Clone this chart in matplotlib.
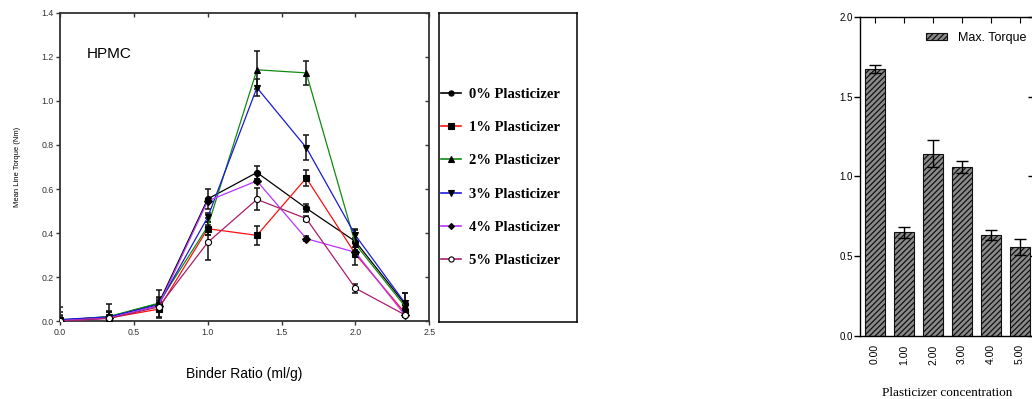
import numpy as np
import matplotlib
matplotlib.use("Agg")
import matplotlib.pyplot as plt
from matplotlib.lines import Line2D
from matplotlib.patches import Patch

plt.rcParams['font.family'] = ['Liberation Sans', 'DejaVu Sans']
plt.rcParams['hatch.linewidth'] = 0.9

# HPMC mixer torque vs binder ratio, one series per plasticizer level
binder = [0.0, 0.333, 0.667, 1.0, 1.333, 1.667, 2.0, 2.333]
labels = ['0% Plasticizer', '1% Plasticizer', '2% Plasticizer',
          '3% Plasticizer', '4% Plasticizer', '5% Plasticizer']
p0 = [0.005, 0.02, 0.08, 0.555, 0.675, 0.513, 0.362, 0.08]
p1 = [0.003, 0.015, 0.055, 0.42, 0.39, 0.65, 0.305, 0.04]
p2 = [0.005, 0.022, 0.082, 0.43, 1.141, 1.127, 0.35, 0.07]
p3 = [0.008, 0.02, 0.075, 0.472, 1.06, 0.788, 0.39, 0.085]
p4 = [0.003, 0.015, 0.07, 0.546, 0.637, 0.375, 0.313, 0.03]
p5 = [0.0, 0.013, 0.065, 0.358, 0.553, 0.466, 0.15, 0.03]
e0 = [0.06, 0.06, 0.06, 0.045, 0.03, 0.018, 0.05, 0.05]
e1 = [0.04, 0.03, 0.04, 0.03, 0.043, 0.035, 0.05, 0.02]
e2 = [0.02, 0.02, 0.03, 0.04, 0.085, 0.055, 0.03, 0.02]
e3 = [0.02, 0.02, 0.03, 0.02, 0.04, 0.055, 0.03, 0.045]
e4 = [0.01, 0.01, 0.02, 0.01, 0.01, 0.01, 0.01, 0.01]
e5 = [0.01, 0.01, 0.02, 0.08, 0.05, 0.01, 0.02, 0.01]

# max torque per plasticizer concentration
conc = ['0.00', '1.00', '2.00', '3.00', '4.00', '5.00']
max_torque = [1.672, 0.649, 1.142, 1.061, 0.635, 0.555]
max_err = [0.027, 0.033, 0.084, 0.038, 0.032, 0.05]

series = [p0, p1, p2, p3, p4, p5]
errs = [e0, e1, e2, e3, e4, e5]
colors = ['black', '#ff1010', '#128a12', '#1a1ad8', '#b833ff', '#a8206a']
markers = ['o', 's', '^', 'v', 'D', 'o']
faces = ['black', 'black', 'black', 'black', 'black', 'white']
sizes = [4.4, 4.4, 4.7, 4.7, 3.6, 4.4]

W, H = 1032, 399
fig = plt.figure(figsize=(W / 100, H / 100), dpi=100)

# line chart
ax = fig.add_axes([60 / W, (H - 321.3) / H, 369.3 / W, 308.6 / H])
for y, e in zip(series, errs):
    ax.errorbar(binder, y, yerr=e, fmt='none', ecolor='#111111',
                elinewidth=1.1, capsize=2.2, capthick=1.1, zorder=2)
for y, c, m, fc, s in zip(series, colors, markers, faces, sizes):
    ax.plot(binder, y, color=c, lw=0.9, marker=m, ms=s, mfc=fc,
            mec='black', mew=0.8, zorder=3)

ax.set_xlim(0, 2.5)
ax.set_ylim(0, 1.4)
ax.set_xticks(np.arange(0, 2.51, 0.5))
ax.set_yticks(np.arange(0, 1.41, 0.2))
ax.xaxis.set_major_formatter('{x:.1f}')
ax.yaxis.set_major_formatter('{x:.1f}')
ax.tick_params(axis='both', labelsize=6.3, length=3, width=1, color='#333333',
               labelcolor='#333333', pad=1.5, direction='out')
ax.tick_params(top=True, right=True, which='both')
for tick in ax.xaxis.get_major_ticks():
    tick.tick2line.set_marker(3)
for tick in ax.yaxis.get_major_ticks():
    tick.tick2line.set_marker(0)
for sp in ax.spines.values():
    sp.set_color('#333333')
    sp.set_linewidth(1.3)
ax.set_xlabel('Binder Ratio (ml/g)', fontsize=10, labelpad=22)
ax.set_ylabel('Mean Line Torque (Nm)', fontsize=5.5, labelpad=15)
ax.text(0.072, 0.853, 'HPMC', transform=ax.transAxes, fontsize=11,
        va='baseline', ha='left')

# legend box for the line chart
ax_leg = fig.add_axes([439 / W, (H - 321.7) / H, 138 / W, 308.7 / H])
ax_leg.set_xticks([])
ax_leg.set_yticks([])
for sp in ax_leg.spines.values():
    sp.set_linewidth(1.1)
handles = [Line2D([], [], color=c, lw=1.2, marker=m, ms=s * 0.85, mfc=fc,
                  mec='black', mew=0.8)
           for c, m, fc, s in zip(colors, markers, faces, sizes)]
fig.legend(handles, labels, loc='upper left',
           bbox_to_anchor=(441 / W, (H - 87.5) / H),
           frameon=False, borderpad=0, borderaxespad=0,
           handlelength=1.35, handletextpad=0.6, labelspacing=1.38,
           prop={'family': 'Liberation Serif', 'weight': 'bold', 'size': 10.5})

# bar chart
ax_bar = fig.add_axes([860 / W, (H - 336) / H, 174 / W, 319.3 / H])
xpos = np.arange(len(conc))
ax_bar.bar(xpos, max_torque, width=0.67, color='#8a8a8a', edgecolor='#111111',
           hatch='//////', lw=0.8, zorder=2)
ax_bar.errorbar(xpos, max_torque, yerr=max_err, fmt='none', ecolor='black',
                elinewidth=1, capsize=4.2, capthick=1, zorder=3)
ax_bar.set_xlim(-0.517, 5.483)
ax_bar.set_ylim(0, 2.0)
ax_bar.set_xticks(xpos)
ax_bar.set_xticklabels(conc, rotation=90)
ax_bar.set_yticks(np.arange(0, 2.01, 0.5))
ax_bar.yaxis.set_major_formatter('{x:.1f}')
ax_bar.tick_params(axis='y', labelsize=7, length=4, width=1, pad=1,
                   direction='out', right=True)
ax_bar.tick_params(axis='x', labelsize=7.5, length=0, pad=6, top=True)
for tick in ax_bar.xaxis.get_major_ticks():
    tick.tick2line.set_marker(3)
    tick.tick2line.set_markersize(4)
for tick in ax_bar.yaxis.get_major_ticks():
    tick.tick2line.set_marker(0)
for sp in ax_bar.spines.values():
    sp.set_linewidth(1)
ax_bar.set_xlabel('Plasticizer concentration', fontsize=9.5,
                  family='Liberation Serif', labelpad=16)
bar_handle = Patch(facecolor='#8a8a8a', edgecolor='#111111', hatch='//////',
                   lw=0.8)
fig.legend([bar_handle], ['Max. Torque'], loc='upper left',
           bbox_to_anchor=(926 / W, (H - 32) / H), frameon=False,
           borderpad=0, borderaxespad=0, handlelength=1.7,
           handleheight=0.55, handletextpad=0.9, fontsize=9)

fig.savefig('out.png', dpi=100)
